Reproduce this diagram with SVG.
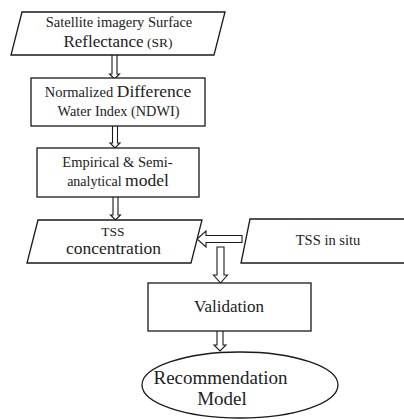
<svg xmlns="http://www.w3.org/2000/svg" width="404" height="419" viewBox="0 0 404 419">
<style>
.s{fill:#fff;stroke:#1a1a1a;stroke-width:1.3}
.a{fill:#fff;stroke:#1a1a1a;stroke-width:1.1}
text{font-family:'Liberation Serif','DejaVu Serif',serif;fill:#222;text-anchor:middle}
.m{font-size:13.5px}
.n{font-size:14.5px}
.l{font-size:17px}
</style>
<rect width="404" height="419" fill="#fff"/>
<g id="connectors">
<path class="a" d="M112,55V74H109.5L114.5,79L119.5,74H117V55"/>
<path class="a" d="M112.5,126V143H110L115,148L120,143H117.5V126"/>
<path class="a" d="M113,197V215H110.5L115.5,220L120.5,215H118V197"/>
<path class="a" d="M242,235.5H206V231L197,239L206,247V242.5H242Z"/>
<path class="a" d="M217,247V275H213.5L220.5,283L227.5,275H224V247Z"/>
<path class="a" d="M217,331V345H214L220,351L226,345H223V331"/>
</g>
<g id="sr">
<polygon class="s" points="22,12 225,12 214,55 11,55"/>
<text x="119" y="27" class="n">Satellite imagery Surface</text>
<text x="118" y="47"><tspan class="l">Reflectance</tspan><tspan class="m"> (SR)</tspan></text>
</g>
<g id="ndwi">
<rect class="s" x="31" y="78" width="174" height="48"/>
<text x="118" y="97"><tspan class="n">Normalized </tspan><tspan style="font-size:17.5px">Difference</tspan></text>
<text x="118.5" y="116" style="font-size:14.3px">Water Index (NDWI)</text>
</g>
<g id="model">
<rect class="s" x="37" y="148" width="162" height="49"/>
<text x="117.5" y="167" class="n">Empirical &amp; Semi-</text>
<text x="118" y="186"><tspan style="font-size:14px">analytical </tspan><tspan style="font-size:17.5px">model</tspan></text>
</g>
<g id="tss">
<polygon class="s" points="38,220 202,220 191,263 27,263"/>
<text x="113" y="236" class="m">TSS</text>
<text x="113.5" y="254" style="font-size:17.5px">concentration</text>
</g>
<g id="insitu">
<polygon class="s" points="250,219 414,219 405,263 241,263"/>
<text x="328" y="245" class="n">TSS in situ</text>
</g>
<g id="validation">
<rect class="s" x="148" y="283" width="163" height="48"/>
<text x="229" y="312" style="font-size:17px">Validation</text>
</g>
<g id="recommendation">
<ellipse class="s" cx="240" cy="385" rx="98" ry="33"/>
<text x="220.5" y="384" style="font-size:19px">Recommendation</text>
<text x="222" y="405" style="font-size:19px">Model</text>
</g>
</svg>
